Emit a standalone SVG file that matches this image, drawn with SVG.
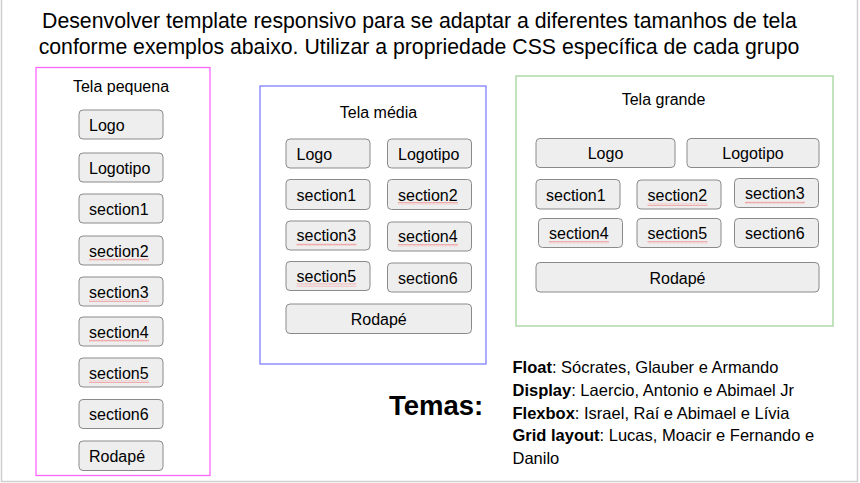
<svg xmlns="http://www.w3.org/2000/svg" width="860" height="483" viewBox="0 0 860 483">
  <defs>
    <!-- spell-check style wavy underline -->
    <pattern id="squiggle" width="4" height="3" patternUnits="userSpaceOnUse">
      <path d="M0,2.5 L1,0.8 L2,2.5 L3,0.8 L4,2.5" fill="none" stroke="#f28b8b" stroke-width="0.7"/>
    </pattern>
  </defs>
  <style>
    text { font-family: "Liberation Sans", Arial, sans-serif; fill: #000; }
    .head { font-size: 21.25px; text-anchor: middle; }
    .title { font-size: 16px; text-anchor: middle; }
    .box { fill: #eeeeee; stroke: #8a8a8a; stroke-width: 1; }
    .lbl { font-size: 16px; }
    .mid { text-anchor: middle; }
    .panel { fill: none; stroke-width: 1.3; }
    .temas { font-size: 27.5px; font-weight: bold; }
    .list { font-size: 16.5px; }
    .b { font-weight: bold; }
    .sq { fill: url(#squiggle); }
  </style>

  <rect x="0" y="0" width="860" height="483" fill="#ffffff"/>
  <!-- slide frame -->
  <path d="M1.5,0 V481.5 H857.5 V0" fill="none" stroke="#cfcfcf" stroke-width="1.5"/>

  <!-- heading -->
  <text class="head" x="419.5" y="27.5">Desenvolver template responsivo para se adaptar a diferentes tamanhos de tela</text>
  <text class="head" x="419" y="53.5">conforme exemplos abaixo. Utilizar a propriedade CSS específica de cada grupo</text>

  <!-- small screen -->
  <g id="tela-pequena">
    <rect class="panel" x="36" y="67.5" width="174" height="408" stroke="#ff66ff"/>
    <text class="title" x="121" y="92">Tela pequena</text>
    <g id="p-logo"><rect class="box" x="79" y="110" width="84" height="29" rx="4"/><text class="lbl" x="89" y="130.5">Logo</text></g>
    <g id="p-logotipo"><rect class="box" x="79" y="153" width="84" height="29" rx="4"/><text class="lbl" x="89" y="173.5">Logotipo</text></g>
    <g id="p-section1"><rect class="box" x="79" y="194" width="84" height="29" rx="4"/><text class="lbl" x="89" y="214.5">section1</text></g>
    <g id="p-section2"><rect class="box" x="79" y="236" width="84" height="29" rx="4"/><text class="lbl" x="89" y="256.5">section2</text><rect class="sq" x="89" y="258" width="60" height="3"/></g>
    <g id="p-section3"><rect class="box" x="79" y="277" width="84" height="29" rx="4"/><text class="lbl" x="89" y="297.5">section3</text><rect class="sq" x="89" y="299" width="60" height="3"/></g>
    <g id="p-section4"><rect class="box" x="79" y="317" width="84" height="29" rx="4"/><text class="lbl" x="89" y="337.5">section4</text><rect class="sq" x="89" y="339" width="60" height="3"/></g>
    <g id="p-section5"><rect class="box" x="79" y="358" width="84" height="29" rx="4"/><text class="lbl" x="89" y="378.5">section5</text><rect class="sq" x="89" y="380" width="60" height="3"/></g>
    <g id="p-section6"><rect class="box" x="79" y="399.5" width="84" height="29" rx="4"/><text class="lbl" x="89" y="420">section6</text></g>
    <g id="p-rodape"><rect class="box" x="79" y="441" width="84" height="29.5" rx="4"/><text class="lbl" x="89" y="461.5">Rodapé</text></g>
  </g>

  <!-- medium screen -->
  <g id="tela-media">
    <rect class="panel" x="260" y="86" width="226" height="278" stroke="#7f7fff"/>
    <text class="title" x="378.5" y="118">Tela média</text>
    <g id="m-logo"><rect class="box" x="286" y="139" width="84" height="29" rx="4"/><text class="lbl" x="296.5" y="159.5">Logo</text></g>
    <g id="m-logotipo"><rect class="box" x="387.5" y="139" width="84" height="29" rx="4"/><text class="lbl" x="398" y="159.5">Logotipo</text></g>
    <g id="m-section1"><rect class="box" x="286" y="179.5" width="84" height="30" rx="4"/><text class="lbl" x="296.5" y="200.5">section1</text></g>
    <g id="m-section2"><rect class="box" x="387.5" y="179.5" width="84" height="30" rx="4"/><text class="lbl" x="398" y="200.5">section2</text><rect class="sq" x="398" y="202" width="60" height="3"/></g>
    <g id="m-section3"><rect class="box" x="286" y="221" width="84" height="29" rx="4"/><text class="lbl" x="296.5" y="241">section3</text><rect class="sq" x="296.5" y="243" width="60" height="3"/></g>
    <g id="m-section4"><rect class="box" x="387.5" y="222" width="84" height="29" rx="4"/><text class="lbl" x="398" y="242">section4</text><rect class="sq" x="398" y="244" width="60" height="3"/></g>
    <g id="m-section5"><rect class="box" x="286" y="261.5" width="84" height="29" rx="4"/><text class="lbl" x="296.5" y="281.5">section5</text><rect class="sq" x="296.5" y="283.5" width="60" height="3"/></g>
    <g id="m-section6"><rect class="box" x="387.5" y="263" width="84" height="29" rx="4"/><text class="lbl" x="398" y="283.5">section6</text></g>
    <g id="m-rodape"><rect class="box" x="286" y="304" width="185.5" height="29.5" rx="4"/><text class="lbl mid" x="378.7" y="325">Rodapé</text></g>
  </g>

  <!-- large screen -->
  <g id="tela-grande">
    <rect class="panel" x="516" y="76" width="317" height="250" stroke="#a3d39c"/>
    <text class="title" x="663.5" y="105">Tela grande</text>
    <g id="g-logo"><rect class="box" x="536" y="138.5" width="139" height="29" rx="4"/><text class="lbl mid" x="605.5" y="159">Logo</text></g>
    <g id="g-logotipo"><rect class="box" x="687" y="138.5" width="132" height="29" rx="4"/><text class="lbl mid" x="753" y="159">Logotipo</text></g>
    <g id="g-section1"><rect class="box" x="536" y="179.5" width="84" height="29.5" rx="4"/><text class="lbl" x="546" y="200.5">section1</text></g>
    <g id="g-section2"><rect class="box" x="637" y="180" width="84" height="29" rx="4"/><text class="lbl" x="647.5" y="201">section2</text><rect class="sq" x="647.5" y="203" width="60" height="3"/></g>
    <g id="g-section3"><rect class="box" x="734.5" y="178.5" width="84" height="29" rx="4"/><text class="lbl" x="745" y="199">section3</text><rect class="sq" x="745" y="201" width="60" height="3"/></g>
    <g id="g-section4"><rect class="box" x="538.5" y="218.5" width="84" height="29" rx="4"/><text class="lbl" x="549" y="239">section4</text><rect class="sq" x="549" y="241" width="60" height="3"/></g>
    <g id="g-section5"><rect class="box" x="637" y="218.5" width="84" height="29" rx="4"/><text class="lbl" x="647.5" y="239">section5</text><rect class="sq" x="647.5" y="241" width="60" height="3"/></g>
    <g id="g-section6"><rect class="box" x="734.5" y="218.5" width="84" height="29" rx="4"/><text class="lbl" x="745" y="239">section6</text></g>
    <g id="g-rodape"><rect class="box" x="536" y="262.5" width="283" height="29.5" rx="4"/><text class="lbl mid" x="677.5" y="283.5">Rodapé</text></g>
  </g>

  <!-- topics -->
  <g id="temas">
    <text class="temas" x="389" y="415">Temas:</text>
    <text class="list" x="512.5" y="372.5"><tspan class="b">Float</tspan>: Sócrates, Glauber e Armando</text>
    <text class="list" x="512.5" y="395.5"><tspan class="b">Display</tspan>: Laercio, Antonio e Abimael Jr</text>
    <text class="list" x="512.5" y="418.5"><tspan class="b">Flexbox</tspan>: Israel, Raí e Abimael e Lívia</text>
    <text class="list" x="512.5" y="441"><tspan class="b">Grid layout</tspan>: Lucas, Moacir e Fernando e</text>
    <text class="list" x="512.5" y="464">Danilo</text>
  </g>
</svg>
